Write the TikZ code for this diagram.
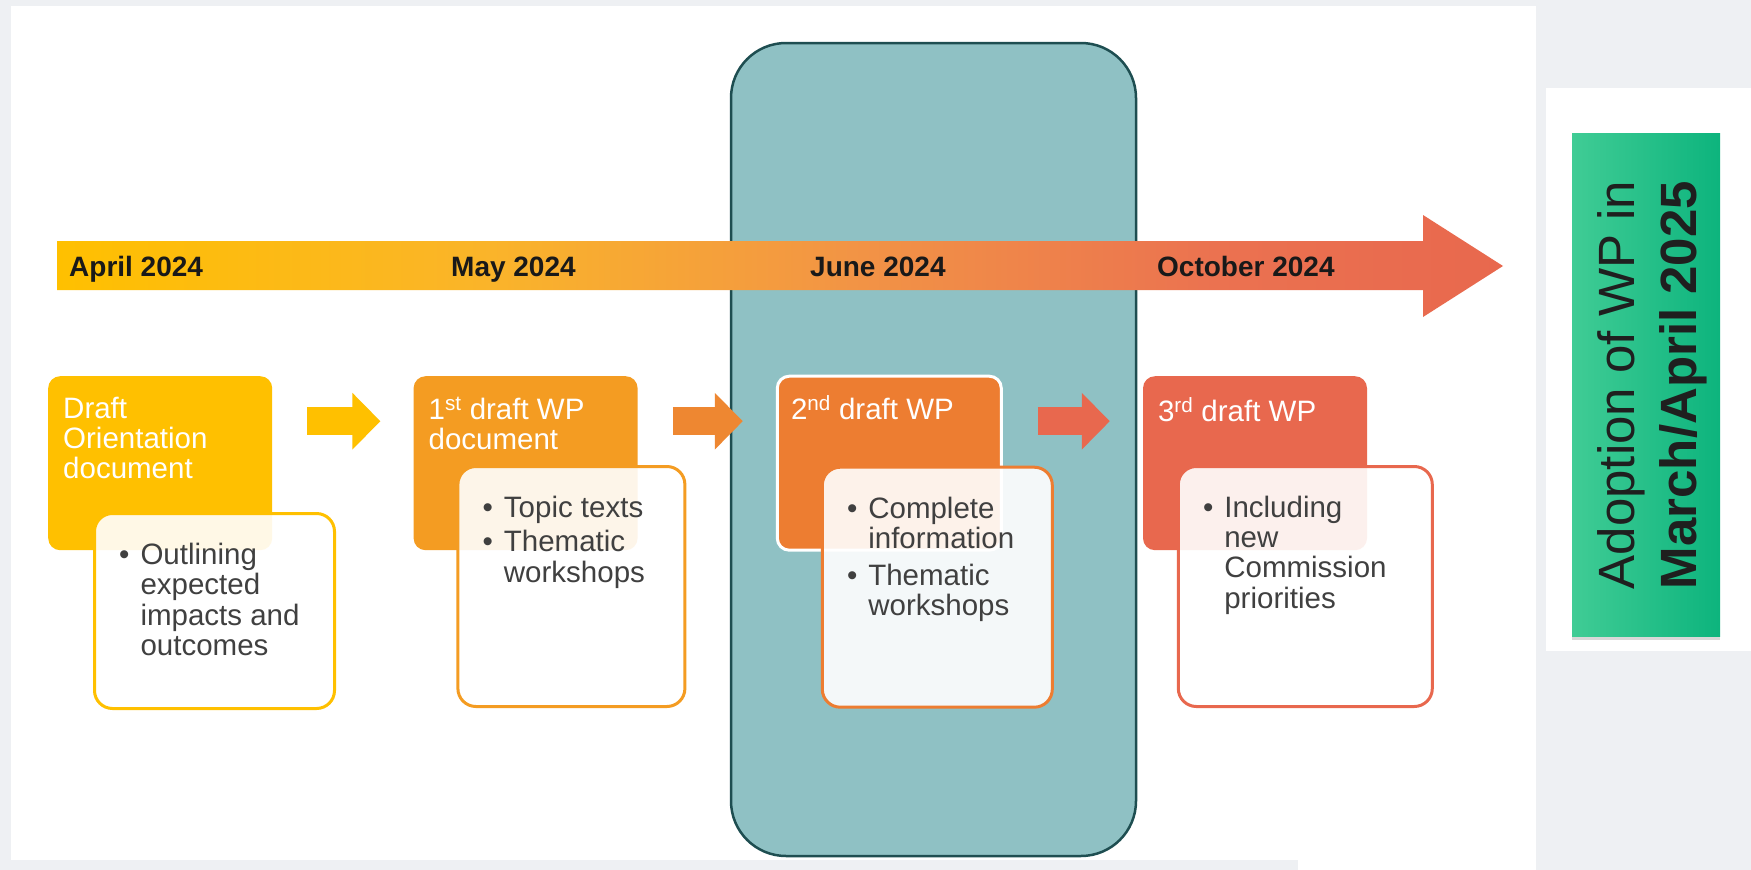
\documentclass[tikz,border=0pt]{standalone}
\usepackage{fontspec}
\setsansfont{Liberation Sans}
\usetikzlibrary{arrows.meta, positioning, shadows}
\definecolor{pagebg}{HTML}{EEF0F3}
\definecolor{stageA}{HTML}{FFC000}
\definecolor{stageB}{HTML}{F49C22}
\definecolor{stageC}{HTML}{ED7D31}
\definecolor{stageD}{HTML}{E8684E}
\definecolor{arrowB}{HTML}{EE8731}
\definecolor{tlB}{HTML}{FAB42A}
\definecolor{tlC}{HTML}{F29445}
\definecolor{tlD}{HTML}{EB7250}
\definecolor{focusbg}{HTML}{8FC1C4}
\definecolor{focusline}{HTML}{1E4E51}
\definecolor{notetext}{HTML}{404040}
\definecolor{adoptL}{HTML}{40CC95}
\definecolor{adoptR}{HTML}{0DB47D}
\pgfdeclarehorizontalshading{timelineshade}{100bp}{color(0bp)=(stageA); color(25bp)=(stageA); color(40bp)=(tlB); color(52.5bp)=(tlC); color(65bp)=(tlD); color(75bp)=(stageD); color(100bp)=(stageD)}
\tikzset{
  stagebox/.style={
    anchor=north west,
    rounded corners=12pt,
    minimum width=224pt,
    minimum height=174pt,
    inner sep=0pt
  },
  stagetitle/.style={
    inner sep=0pt,
    align=left,
    text=white,
    font=\sffamily\fontsize{29.5}{30}\selectfont
  },
  notebox/.style={
    rounded corners=18pt,
    line width=3pt,
    fill=white,
    fill opacity=0.9,
    inner sep=0pt,
    minimum height=240pt
  },
  notelist/.style={
    inner sep=0pt,
    text=notetext,
    font=\sffamily\fontsize{29.5}{30}\selectfont
  },
  steparrow/.style={
    -{Triangle[width=55pt, length=28pt]},
    line width=28pt
  },
  datelabel/.style={
    anchor=base west,
    inner sep=0pt,
    text=black!90,
    font=\sffamily\bfseries\fontsize{28}{30}\selectfont
  },
  focusbox/.style={
    rounded corners=55pt,
    fill=focusbg,
    draw=focusline,
    line width=2.5pt,
    minimum width=405pt,
    minimum height=813pt,
    inner sep=0pt
  },
  adoptbox/.style={
    left color=adoptL,
    right color=adoptR,
    minimum width=148pt,
    minimum height=503pt,
    inner sep=0pt,
    drop shadow={shadow xshift=0pt, shadow yshift=-4pt, opacity=0.3}
  },
  adopttext/.style={
    align=center,
    inner sep=0pt,
    text=black!88,
    font=\sffamily\fontsize{51}{62}\selectfont
  }
}

\begin{document}
\begin{tikzpicture}[x=1pt, y=-1pt]

% page and panels
\fill[pagebg] (0,0) rectangle (1751,870);
\useasboundingbox (0,0) rectangle (1751,870);
\fill[white] (11,6) rectangle (1536,860);
\fill[white] (1298,860) rectangle (1536,870);
\fill[white] (1546,88) rectangle (1751,651);

\node[focusbox] (focus) at (933.5,449.5) {};

% timeline
\shade[shading=timelineshade] (57,241) -- (1423,241) -- (1423,215) -- (1503,266)
  -- (1423,317) -- (1423,290) -- (57,290) -- cycle;
\node[datelabel] (april) at (69,276) {April 2024};
\node[datelabel] (may) at (451,276) {May 2024};
\node[datelabel] (june) at (810,276) {June 2024};
\node[datelabel] (october) at (1157,276) {October 2024};

% stages
\node[stagebox, fill=stageA] (orient) at (48,376) {};
\node[stagebox, fill=stageB, right=141pt of orient] (firstdraft) {};
\node[stagebox, fill=stageC, draw=white, line width=3pt, right=138pt of firstdraft] (seconddraft) {};
\node[stagebox, fill=stageD, right=140pt of seconddraft] (thirddraft) {};

\node[stagetitle, below right=21pt and 15pt of orient.north west] (orienttitle) {Draft\\Orientation\\document};
\node[stagetitle, below right=21pt and 15pt of firstdraft.north west] (firsttitle) {1\textsuperscript{st} draft WP\\document};
\node[stagetitle, below right=21pt and 15pt of seconddraft.north west] (secondtitle) {2\textsuperscript{nd} draft WP};
\node[stagetitle, below right=21pt and 15pt of thirddraft.north west] (thirdtitle) {3\textsuperscript{rd} draft WP};

% notes
\node[notebox, draw=stageA, minimum width=240pt, minimum height=195pt, below right=136pt and 45pt of orient.north west] (orientnote) {};
\node[notebox, draw=stageB, minimum width=227pt, below right=89pt and 43pt of firstdraft.north west] (firstnote) {};
\node[notebox, draw=stageC, minimum width=230pt, below right=91pt and 45pt of seconddraft.north west] (secondnote) {};
\node[notebox, draw=stageD, minimum width=254pt, below right=89pt and 34pt of thirddraft.north west] (thirdnote) {};

\node[notelist, below right=31pt and 26pt of orientnote.north west] (orientlist) {%
  \begin{tabular}{@{}l@{\hspace{11pt}}l@{}}
    \textbullet & Outlining\\ & expected\\ & impacts and\\ & outcomes
  \end{tabular}};
\node[notelist, below right=31pt and 26pt of firstnote.north west] (firstlist) {%
  \begin{tabular}{@{}l@{\hspace{11pt}}l@{}}
    \textbullet & Topic texts\\[4pt] \textbullet & Thematic\\ & workshops
  \end{tabular}};
\node[notelist, below right=31pt and 26pt of secondnote.north west] (secondlist) {%
  \begin{tabular}{@{}l@{\hspace{11pt}}l@{}}
    \textbullet & Complete\\ & information\\[6pt] \textbullet & Thematic\\ & workshops
  \end{tabular}};
\node[notelist, below right=31pt and 26pt of thirdnote.north west] (thirdlist) {%
  \begin{tabular}{@{}l@{\hspace{11pt}}l@{}}
    \textbullet & Including\\ & new\\ & Commission\\ & priorities
  \end{tabular}};

% adoption
\node[adoptbox] (adoption) at (1646,384.5) {};
\node[adopttext, rotate=90] (adoptlabel) at (1652,385) {Adoption of WP in\\\textbf{March/April 2025}};

\draw[steparrow, stageA] ([xshift=35pt, yshift=42pt]orient.east) -- ([xshift=-33pt, yshift=42pt]firstdraft.west);
\draw[steparrow, arrowB] ([xshift=35pt, yshift=42pt]firstdraft.east) -- ([xshift=-33pt, yshift=42pt]seconddraft.west);
\draw[steparrow, stageD] ([xshift=35pt, yshift=42pt]seconddraft.east) -- ([xshift=-33pt, yshift=42pt]thirddraft.west);

\end{tikzpicture}
\end{document}
